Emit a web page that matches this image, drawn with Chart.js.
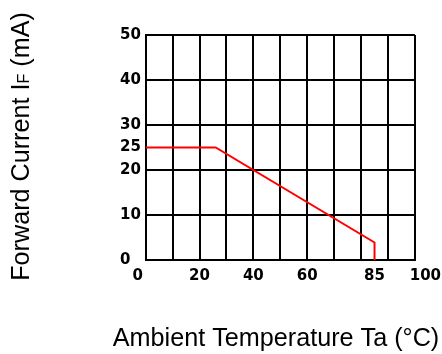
<!DOCTYPE html>
<html>
<head>
<meta charset="utf-8">
<script src="https://cdn.jsdelivr.net/npm/chart.js@4"></script>
<style>
html,body{margin:0;padding:0;background:#fff;}
canvas{display:block;}
</style>
</head>
<body>
<canvas id="c" width="442" height="354"></canvas>
<script>
// Data
const curveX = [0, 26, 85, 85];
const curveY = [25, 25, 3.9, 0];
const xTickValues = [0, 10, 20, 30, 40, 50, 60, 70, 80, 85, 90, 100];
const xTickLabels = ['0', '', '20', '', '40', '', '60', '', '', '85', '', '100'];
const yTickValues = [0, 10, 20, 25, 30, 40, 50];
const yTickLabels = ['0', '10', '20', '25', '30', '40', '50'];
const xGridSkip = [85];
const yGridSkip = [25];
const xTitle = 'Ambient Temperature Ta (°C)';
const yTitleParts = ['Forward Current I', 'F', ' (mA)'];

const points = curveX.map((x, i) => ({x: x, y: curveY[i]}));

const tickFont = {family: 'DejaVu Sans', size: 15, weight: 'bold'};
const titleFamily = '"Liberation Sans", Arial, sans-serif';

const titlesPlugin = {
  id: 'axisTitles',
  afterDraw(chart) {
    const ctx = chart.ctx;
    const big = '25.2px ' + titleFamily;
    const small = '16px ' + titleFamily;
    ctx.save();
    ctx.fillStyle = '#000';
    ctx.textBaseline = 'alphabetic';
    // x title
    ctx.font = big;
    ctx.textAlign = 'center';
    ctx.fillText(xTitle, 276, 346);
    // y title (rotated, with small F)
    const fonts = [big, small, big];
    let total = 0;
    const widths = yTitleParts.map((t, i) => { ctx.font = fonts[i]; const w = ctx.measureText(t).width; total += w; return w; });
    ctx.translate(29, 146.5);
    ctx.rotate(-Math.PI / 2);
    ctx.textAlign = 'left';
    let pos = -total / 2;
    yTitleParts.forEach((t, i) => { ctx.font = fonts[i]; ctx.fillText(t, pos, 0); pos += widths[i]; });
    ctx.restore();
  }
};

new Chart(document.getElementById('c'), {
  type: 'scatter',
  data: {
    datasets: [{
      data: points,
      showLine: true,
      borderColor: '#ff0000',
      borderWidth: 2,
      pointRadius: 0,
      pointHoverRadius: 0,
      fill: false,
      tension: 0
    }]
  },
  options: {
    responsive: false,
    animation: false,
    events: [],
    layout: {padding: {left: 120, top: 35, right: 0, bottom: 68}},
    plugins: {legend: {display: false}, tooltip: {enabled: false}},
    scales: {
      x: {
        type: 'linear',
        min: 0, max: 100,
        afterBuildTicks: (scale) => { scale.ticks = xTickValues.map(v => ({value: v})); },
        grid: {
          color: (ctx) => (ctx.tick && xGridSkip.includes(ctx.tick.value)) ? 'rgba(0,0,0,0)' : '#000',
          lineWidth: 2,
          drawTicks: true,
          tickLength: 6,
          tickColor: 'rgba(0,0,0,0)'
        },
        border: {display: true, color: '#000', width: 2},
        ticks: {
          autoSkip: false,
          maxRotation: 0,
          padding: 1,
          color: '#000',
          font: tickFont,
          callback: (value) => {
            const i = xTickValues.indexOf(value);
            const lab = i >= 0 ? xTickLabels[i] : '';
            if (value === 0) return lab + '   ';
            if (value === 100) return '    ' + lab;
            return lab;
          }
        }
      },
      y: {
        type: 'linear',
        min: 0, max: 50,
        afterBuildTicks: (scale) => { scale.ticks = yTickValues.map(v => ({value: v})); },
        grid: {
          color: (ctx) => (ctx.tick && yGridSkip.includes(ctx.tick.value)) ? 'rgba(0,0,0,0)' : '#000',
          lineWidth: 2,
          drawTicks: false
        },
        border: {display: true, color: '#000', width: 2},
        ticks: {
          autoSkip: false,
          crossAlign: 'far',
          padding: 2.4,
          color: '#000',
          font: tickFont,
          callback: (value) => {
            const i = yTickValues.indexOf(value);
            return i >= 0 ? yTickLabels[i] : '';
          }
        }
      }
    }
  },
  plugins: [titlesPlugin]
});
</script>
</body>
</html>
